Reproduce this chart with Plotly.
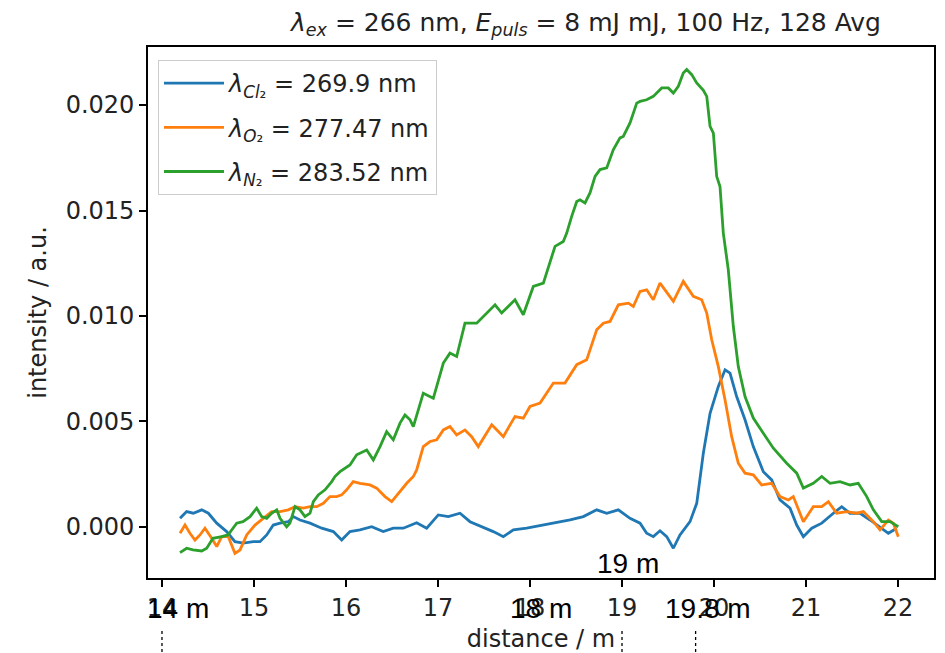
import plotly.graph_objects as go

# ---------------- data ----------------
x_cl2 = [14.196,14.268,14.340,14.432,14.504,14.595,14.703,14.793,14.884,14.993,15.065,15.138,15.210,15.283,15.373,15.428,15.500,15.609,15.736,15.862,15.953,16.043,16.152,16.279,16.405,16.514,16.623,16.768,16.877,17.003,17.112,17.239,17.348,17.457,17.601,17.710,17.819,17.964,18.145,18.290,18.435,18.580,18.725,18.834,18.960,19.087,19.196,19.268,19.340,19.413,19.486,19.558,19.630,19.739,19.812,19.884,19.957,20.047,20.120,20.174,20.246,20.337,20.427,20.536,20.627,20.717,20.826,20.899,20.971,21.062,21.171,21.297,21.388,21.478,21.587,21.696,21.804,21.895,21.986]
y_cl2 = [0.00041,0.00073,0.00065,0.00081,0.00065,0.00018,-0.00022,-0.00070,-0.00077,-0.00070,-0.00070,-0.00038,0.00009,0.00018,0.00025,0.00049,0.00033,0.00018,-0.00006,-0.00022,-0.00062,-0.00022,-0.00014,0.00001,-0.00022,-0.00006,-0.00006,0.00020,-0.00006,0.00057,0.00049,0.00065,0.00025,0.00005,-0.00022,-0.00046,-0.00014,-0.00006,0.00009,0.00018,0.00033,0.00049,0.00081,0.00065,0.00081,0.00041,0.00018,-0.00030,-0.00046,-0.00018,-0.00046,-0.00101,-0.00038,0.00025,0.00112,0.00350,0.00539,0.00666,0.00745,0.00729,0.00618,0.00508,0.00381,0.00262,0.00223,0.00128,0.00089,0.00009,-0.00046,-0.00006,0.00018,0.00065,0.00096,0.00065,0.00065,0.00033,0.00001,-0.00030,-0.00006]

x_o2 = [14.196,14.250,14.304,14.359,14.413,14.467,14.540,14.595,14.649,14.721,14.793,14.848,14.921,15.011,15.101,15.192,15.283,15.373,15.446,15.536,15.609,15.682,15.754,15.826,15.899,15.953,16.007,16.079,16.152,16.261,16.333,16.424,16.497,16.569,16.660,16.732,16.768,16.840,16.913,16.986,17.058,17.130,17.203,17.293,17.366,17.438,17.511,17.584,17.656,17.710,17.783,17.837,17.927,18.000,18.109,18.181,18.254,18.380,18.508,18.616,18.725,18.797,18.870,18.960,19.069,19.123,19.196,19.268,19.340,19.413,19.558,19.666,19.775,19.866,19.921,19.975,20.047,20.120,20.192,20.264,20.337,20.427,20.518,20.627,20.717,20.808,20.862,20.971,21.079,21.171,21.243,21.333,21.442,21.551,21.623,21.732,21.804,21.895,21.949,22.003]
y_o2 = [-0.00030,0.00009,-0.00030,-0.00062,-0.00038,-0.00006,-0.00054,-0.00093,-0.00046,-0.00046,-0.00125,-0.00109,-0.00038,0.00009,0.00041,0.00073,0.00073,0.00081,0.00096,0.00089,0.00096,0.00096,0.00112,0.00144,0.00144,0.00152,0.00176,0.00215,0.00207,0.00199,0.00184,0.00144,0.00120,0.00160,0.00207,0.00239,0.00270,0.00381,0.00405,0.00413,0.00460,0.00476,0.00436,0.00460,0.00428,0.00381,0.00436,0.00484,0.00452,0.00428,0.00484,0.00523,0.00516,0.00571,0.00587,0.00634,0.00682,0.00682,0.00769,0.00792,0.00935,0.00966,0.00974,0.01053,0.01061,0.01045,0.01116,0.01124,0.01077,0.01156,0.01069,0.01164,0.01093,0.01077,0.01014,0.00887,0.00760,0.00602,0.00428,0.00302,0.00255,0.00247,0.00199,0.00207,0.00144,0.00128,0.00144,0.00025,0.00096,0.00096,0.00120,0.00065,0.00073,0.00065,0.00073,0.00025,-0.00014,0.00033,0.00018,-0.00046]

x_n2 = [14.196,14.268,14.337,14.432,14.486,14.554,14.649,14.717,14.812,14.880,14.957,15.029,15.084,15.138,15.192,15.247,15.283,15.355,15.391,15.446,15.500,15.554,15.609,15.645,15.699,15.772,15.845,15.880,15.935,16.043,16.116,16.225,16.297,16.370,16.442,16.514,16.587,16.641,16.696,16.732,16.840,16.949,17.058,17.130,17.203,17.293,17.421,17.529,17.620,17.692,17.837,17.927,18.036,18.145,18.199,18.272,18.362,18.399,18.453,18.508,18.543,18.598,18.652,18.707,18.761,18.834,18.905,18.978,19.014,19.087,19.160,19.196,19.268,19.340,19.432,19.503,19.558,19.612,19.666,19.703,19.758,19.812,19.884,19.921,19.957,19.993,20.029,20.065,20.101,20.155,20.210,20.264,20.337,20.427,20.536,20.645,20.790,20.899,20.971,21.079,21.171,21.261,21.370,21.478,21.568,21.660,21.732,21.823,21.913,22.003]
y_n2 = [-0.00122,-0.00101,-0.00109,-0.00114,-0.00101,-0.00054,-0.00046,-0.00038,0.00018,0.00025,0.00049,0.00089,0.00049,0.00041,0.00065,0.00081,0.00041,0.00001,0.00018,0.00096,0.00081,0.00049,0.00065,0.00120,0.00152,0.00176,0.00215,0.00239,0.00262,0.00294,0.00342,0.00365,0.00318,0.00381,0.00452,0.00413,0.00492,0.00531,0.00508,0.00476,0.00634,0.00610,0.00777,0.00824,0.00808,0.00966,0.00966,0.01014,0.01053,0.01014,0.01077,0.01006,0.01140,0.01156,0.01235,0.01330,0.01353,0.01393,0.01472,0.01543,0.01551,0.01536,0.01583,0.01662,0.01694,0.01702,0.01788,0.01844,0.01851,0.01915,0.02009,0.02017,0.02025,0.02041,0.02081,0.02081,0.02057,0.02089,0.02152,0.02168,0.02144,0.02105,0.02070,0.02041,0.01899,0.01867,0.01662,0.01614,0.01393,0.01220,0.00950,0.00760,0.00618,0.00516,0.00444,0.00373,0.00302,0.00255,0.00184,0.00207,0.00239,0.00207,0.00215,0.00199,0.00207,0.00144,0.00081,0.00025,0.00025,0.00001]

series_names = ["<i>λ</i><sub><i>Cl</i>₂</sub> = 269.9 nm",
                "<i>λ</i><sub><i>O</i>₂</sub> = 277.47 nm",
                "<i>λ</i><sub><i>N</i>₂</sub> = 283.52 nm"]
series_colors = ["#1f77b4", "#ff7f0e", "#2ca02c"]

marker_labels = ["14 m", "18 m", "19.8 m"]
marker_pos = [14, 18, 19.8]
marker_shift = [16, 11, 12]
inner_label = "19 m"
inner_pos = 19
dash_pos = [14, 19, 19.8]

title_text = ("<i>λ</i><sub><i>ex</i></sub> = 266 nm, <i>E</i><sub><i>puls</i></sub> = 8 mJ mJ, "
              "100 Hz, 128 Avg")

FONT = "DejaVu Sans"
TXT = "#222222"

fig = go.Figure()
for i, (xs, ys) in enumerate([(x_cl2, y_cl2), (x_o2, y_o2), (x_n2, y_n2)]):
    fig.add_trace(go.Scatter(x=xs, y=ys, mode="lines", name=series_names[i],
                             legendgroup=f"g{i}",
                             line=dict(color=series_colors[i], width=2.8)))

for lbl, pos, sh in zip(marker_labels, marker_pos, marker_shift):
    fig.add_annotation(x=pos, y=-0.058, xref="x", yref="paper", text=lbl,
                       showarrow=False, xanchor="center", yanchor="middle",
                       xshift=sh, font=dict(family="Liberation Sans", size=28, color="black"))
fig.add_annotation(x=inner_pos, y=(578 - 563) / 531, xref="x", yref="paper", text=inner_label,
                   showarrow=False, xanchor="center", yanchor="middle", xshift=6,
                   font=dict(family="Liberation Sans", size=28, color="black"))

for p in dash_pos:
    fig.add_shape(type="line", xref="x", yref="paper", x0=p, x1=p, y0=-0.100, y1=-0.16,
                  line=dict(color="black", width=1.3, dash="3px,3px"))

axis_common = dict(showline=True, linecolor="black", linewidth=1.6, mirror=True,
                   ticks="outside", ticklen=7, tickwidth=1.6, tickcolor="black",
                   showgrid=False, zeroline=False, automargin=False,
                   tickfont=dict(family=FONT, size=24, color=TXT))

fig.update_layout(
    width=945, height=653,
    margin=dict(l=148, r=11, t=47, b=75),
    paper_bgcolor="white", plot_bgcolor="white",
    title=dict(text=title_text, x=586 / 945, xanchor="center",
               y=1 - 22 / 653, yanchor="middle", yref="container",
               font=dict(family=FONT, size=25, color=TXT), automargin=False),
    xaxis=dict(range=[13.848, 22.391], dtick=1, tick0=14,
               title=dict(text="distance / m", standoff=13,
                          font=dict(family=FONT, size=24, color=TXT)),
               **axis_common),
    yaxis=dict(range=[-0.00242, 0.02275], dtick=0.005, tick0=0, tickformat=".3f",
               title=dict(text="intensity / a.u.", standoff=12,
                          font=dict(family=FONT, size=24, color=TXT)),
               **axis_common),
    showlegend=True,
    legend=dict(x=0.0127, y=0.9755, xanchor="left", yanchor="top",
                bgcolor="rgba(255,255,255,0.8)", bordercolor="#cccccc", borderwidth=1,
                font=dict(family=FONT, size=24, color=TXT),
                tracegroupgap=10, itemwidth=60, traceorder="grouped"),
)

fig.write_html("out.html")
